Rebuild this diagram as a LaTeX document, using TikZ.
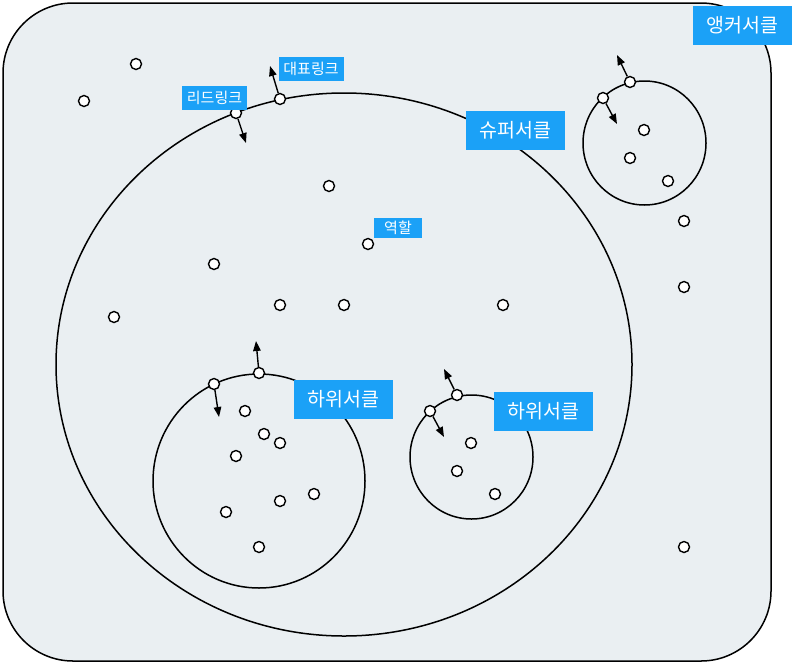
\documentclass[tikz,border=0pt]{standalone}
\usepackage{fontspec}
\newfontfamily\kr{Noto Sans CJK KR}
\usetikzlibrary{arrows.meta}
\definecolor{bgfill}{HTML}{EAEFF2}
\definecolor{lblue}{HTML}{1BA1F7}
\tikzset{
  dot/.style={circle,draw=black,fill=white,line width=1.4pt,minimum size=11pt,inner sep=0pt},
  arr/.style={line width=1.4pt,-{Triangle[length=10pt,width=7.5pt]}},
  circ/.style={draw=black,line width=1.5pt},
  biglbl/.style={fill=lblue,text=white,font=\kr\fontsize{19.5}{19.5}\selectfont,minimum width=99pt,minimum height=39pt,inner sep=0pt},
  smalllbl/.style={fill=lblue,text=white,font=\kr\fontsize{15}{15}\selectfont,minimum width=65pt,minimum height=24pt,inner sep=0pt},
}
\begin{document}
\begin{tikzpicture}[x=1pt,y=-1pt]
\useasboundingbox (0,0) rectangle (794,664);
% outer anchor region
\draw[circ,fill=bgfill,rounded corners=70pt] (3,3) rectangle (771,661);
% circles
\draw[circ] (344,364.5) ellipse [x radius=288,y radius=271.5];
\draw[circ] (644.5,143) ellipse [x radius=61.5,y radius=62];
\draw[circ] (259,481) ellipse [x radius=106,y radius=107];
\draw[circ] (471.5,457) ellipse [x radius=61.5,y radius=62];
% arrow targets
\coordinate (repT) at (270,66);
\coordinate (leadT) at (246,143);
\coordinate (trRepT) at (617,55);
\coordinate (trLeadT) at (617,124);
\coordinate (llRepT) at (256,341);
\coordinate (llLeadT) at (219,417);
\coordinate (lrRepT) at (444,369);
\coordinate (lrLeadT) at (444,437);
% link dots
\node[dot] (rep) at (280,99) {};
\node[dot] (lead) at (236,113) {};
\node[dot] (trRep) at (630,82) {};
\node[dot] (trLead) at (603,98) {};
\node[dot] (llRep) at (259,373) {};
\node[dot] (llLead) at (214,384) {};
\node[dot] (lrRep) at (457,395) {};
\node[dot] (lrLead) at (430,411) {};
\draw[arr] (rep) -- (repT);
\draw[arr] (lead) -- (leadT);
\draw[arr] (trRep) -- (trRepT);
\draw[arr] (trLead) -- (trLeadT);
\draw[arr] (llRep) -- (llRepT);
\draw[arr] (llLead) -- (llLeadT);
\draw[arr] (lrRep) -- (lrRepT);
\draw[arr] (lrLead) -- (lrLeadT);
% other dots
\node[dot] (a1) at (136,64) {};
\node[dot] (a2) at (84,101) {};
\node[dot] (s1) at (329,186) {};
\node[dot] (role) at (368,244) {};
\node[dot] (s3) at (214,264) {};
\node[dot] (s4) at (280,305) {};
\node[dot] (s5) at (344,305) {};
\node[dot] (s6) at (503,305) {};
\node[dot] (s7) at (114,317) {};
\node[dot] (t1) at (644,130) {};
\node[dot] (t2) at (630,158) {};
\node[dot] (t3) at (668,181) {};
\node[dot] (a3) at (684,221) {};
\node[dot] (a4) at (684,287) {};
\node[dot] (a5) at (684,547) {};
\node[dot] (l1) at (245,411) {};
\node[dot] (l2) at (264,434) {};
\node[dot] (l3) at (280,443) {};
\node[dot] (l4) at (236,456) {};
\node[dot] (l5) at (314,494) {};
\node[dot] (l6) at (280,501) {};
\node[dot] (l7) at (226,512) {};
\node[dot] (l8) at (259,547) {};
\node[dot] (r1) at (471,443) {};
\node[dot] (r2) at (457,471) {};
\node[dot] (r3) at (495,494) {};
% labels
\node[biglbl] (anchorL) at (742.5,25) {앵커서클};
\node[biglbl] (superL) at (515.5,130.5) {슈퍼서클};
\node[biglbl] (subL1) at (343.5,399.5) {하위서클};
\node[biglbl] (subL2) at (543.5,411.5) {하위서클};
\node[smalllbl] (leadL) at (214.5,97.5) {리드링크};
\node[smalllbl] (repL) at (311,69) {대표링크};
\node[smalllbl,minimum width=48pt,minimum height=20pt] (roleL) at (398,228) {역할};
\end{tikzpicture}
\end{document}
